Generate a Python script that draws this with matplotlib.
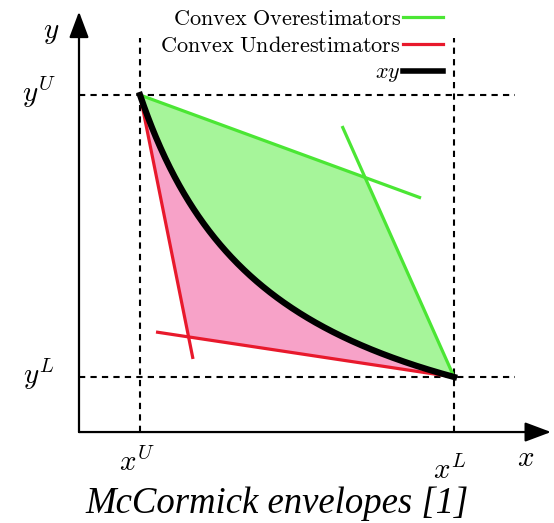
import numpy as np
import matplotlib
matplotlib.use("Agg")
import matplotlib.pyplot as plt
from matplotlib.lines import Line2D

plt.rcParams['mathtext.fontset'] = 'cm'

# ---- data ----
x_bounds = [1.0, 3.3]          # x^U (left), x^L (right)
y_bounds = [1.0, 3.3]          # y^L (bottom), y^U (top)
xy_const = 3.3                 # curve x*y = const
over1_x = [1.0, 3.058]; over1_y = [3.3, 2.460]
over2_x = [2.480, 3.3]; over2_y = [3.047, 1.0]
under1_x = [1.0, 1.388]; under1_y = [3.3, 1.147]
under2_x = [1.117, 3.3]; under2_y = [1.367, 1.0]
legend_labels = [r'$\mathrm{Convex\ Overestimators}$',
                 r'$\mathrm{Convex\ Underestimators}$', r'$xy$']
caption = "McCormick envelopes [1]"

GREEN_FILL = '#a6f59a'
PINK_FILL = '#f7a2c8'
GREEN = '#4be634'
RED = '#e8192c'

fig = plt.figure(figsize=(5.54, 5.23), dpi=100)
ax = fig.add_axes([0, 0, 1, 1])
ax.set_xlim(-0.0256, 4.032)
ax.set_ylim(-0.191, 4.075)
ax.axis('off')

def line_fn(xs, ys):
    m = (ys[1] - ys[0]) / (xs[1] - xs[0])
    return lambda x: ys[0] + m * (np.asarray(x) - xs[0])

xc = np.linspace(x_bounds[0], x_bounds[1], 400)
yc = xy_const / xc
upper = np.minimum(line_fn(over1_x, over1_y)(xc), line_fn(over2_x, over2_y)(xc))
lower = np.maximum(line_fn(under1_x, under1_y)(xc), line_fn(under2_x, under2_y)(xc))

ax.fill_between(xc, yc, upper, color=GREEN_FILL, lw=0, zorder=1)
ax.fill_between(xc, lower, yc, color=PINK_FILL, lw=0, zorder=1)

# axes with arrows
ox, oy = 0.553, 0.551
arrow_kw = dict(arrowstyle='-|>,head_length=0.8,head_width=0.3', mutation_scale=20,
                lw=1.6, color='black', shrinkA=0, shrinkB=0)
ax.annotate('', xy=(4.01, oy), xytext=(ox, oy), arrowprops=arrow_kw, zorder=5)
ax.annotate('', xy=(ox, 3.98), xytext=(ox, oy), arrowprops=arrow_kw, zorder=5)

# dashed bounds
dash_kw = dict(color='black', lw=1.5, dashes=(3, 2.5), zorder=2)
for yb in y_bounds:
    ax.plot([ox, 3.747], [yb, yb], **dash_kw)
for xb in x_bounds:
    ax.plot([xb, xb], [oy, 3.765], **dash_kw)

# estimator lines
ax.plot(over1_x, over1_y, color=GREEN, lw=2.3, solid_capstyle='butt', zorder=3)
ax.plot(over2_x, over2_y, color=GREEN, lw=2.3, solid_capstyle='butt', zorder=3)
ax.plot(under1_x, under1_y, color=RED, lw=2.3, solid_capstyle='butt', zorder=3)
ax.plot(under2_x, under2_y, color=RED, lw=2.3, solid_capstyle='butt', zorder=3)
ax.plot(xc, yc, color='black', lw=4.5, zorder=4)

# labels
lab = dict(fontsize=21, ha='center', va='center')
ax.text(0.348, 3.813, r'$y$', **lab)
ax.text(0.26, 3.32, r'$y^U$', **lab)
ax.text(0.26, 1.02, r'$y^L$', **lab)
ax.text(0.98, 0.30, r'$x^U$', **lab)
ax.text(3.27, 0.24, r'$x^L$', **lab)
ax.text(3.827, 0.339, r'$x$', **lab)

handles = [Line2D([], [], color=GREEN, lw=2.3),
           Line2D([], [], color=RED, lw=2.3),
           Line2D([], [], color='black', lw=4.0)]
ax.legend(handles, legend_labels, markerfirst=False, frameon=False, fontsize=16,
          loc='upper right', bbox_to_anchor=(443 / 554, 1 - 9 / 523),
          bbox_transform=fig.transFigure, borderaxespad=0, borderpad=0,
          handlelength=1.8, handletextpad=0.1, labelspacing=0.3)

fig.text(0.501, 1 - 513 / 523, caption, fontsize=26.5, style='italic',
         family='Liberation Serif', ha='center', va='baseline')

fig.savefig('out.png', dpi=100)
